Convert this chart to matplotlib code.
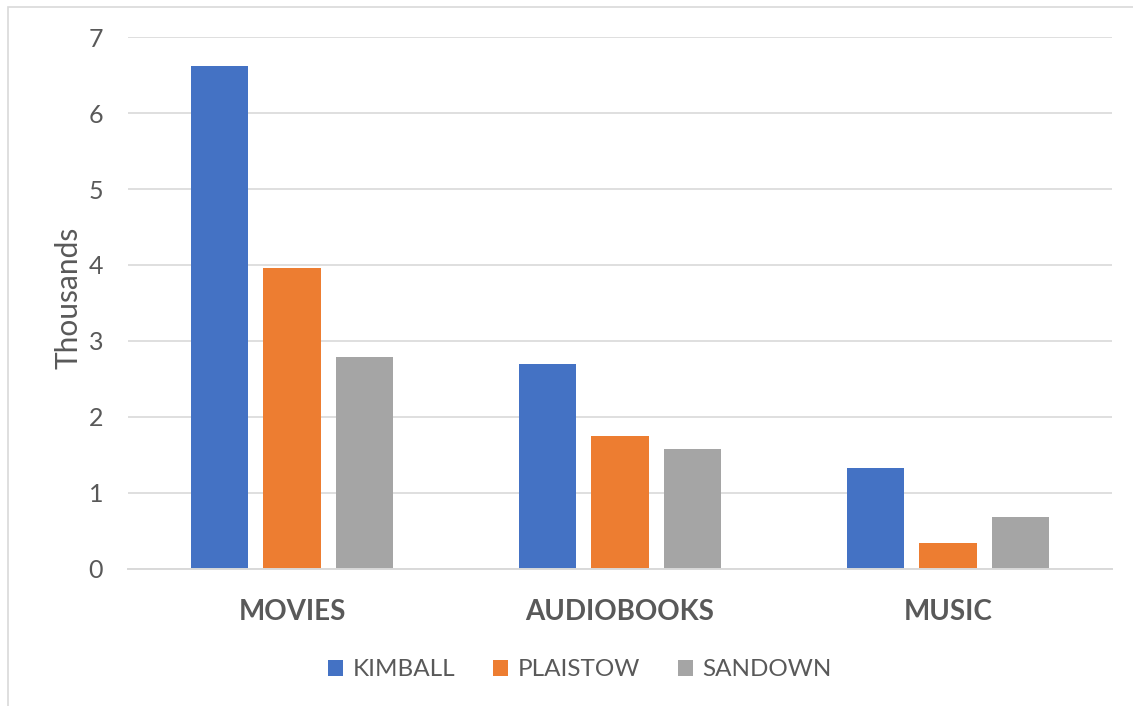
import matplotlib
matplotlib.use("Agg")
import matplotlib.pyplot as plt
from matplotlib.patches import Rectangle, Patch
import numpy as np

categories = ["MOVIES", "AUDIOBOOKS", "MUSIC"]
series_names = ["KIMBALL", "PLAISTOW", "SANDOWN"]
kimball = [6.62, 2.70, 1.32]
plaistow = [3.96, 1.75, 0.34]
sandown = [2.79, 1.57, 0.68]
yticks = [0, 1, 2, 3, 4, 5, 6, 7]

colors = ["#4472C4", "#ED7D31", "#A5A5A5"]
txt = "#595959"
grid = "#D9D9D9"

plt.rcParams['font.family'] = ['Lato', 'DejaVu Sans']

W, H = 1133, 706
fig = plt.figure(figsize=(W / 100, H / 100), dpi=100)
ax = fig.add_axes([128 / W, 1 - 568.5 / H, 984 / W, (568.5 - 37.3) / H])

x = np.arange(len(categories))
width = 0.175
step = 0.221
for i, (vals, name) in enumerate(zip([kimball, plaistow, sandown], series_names)):
    ax.bar(x + (i - 1) * step, vals, width, color=colors[i], label=name, zorder=3)

ax.set_xlim(-0.5, 2.5)
ax.set_ylim(0, 7)
ax.set_yticks(yticks)
ax.set_yticklabels([str(t) for t in yticks])
ax.set_xticks(x)
ax.set_xticklabels(categories, fontweight='bold')
ax.yaxis.grid(True, color=grid, linewidth=1.2, zorder=0)
for s in ["top", "right", "left"]:
    ax.spines[s].set_visible(False)
ax.spines["bottom"].set_color(grid)
ax.spines["bottom"].set_linewidth(1.4)
ax.spines["bottom"].set_zorder(4)
ax.tick_params(axis='y', length=0, pad=18, labelsize=18, labelcolor=txt)
ax.tick_params(axis='x', length=0, pad=22, labelsize=20, labelcolor=txt)

ax.set_ylabel("Thousands", fontsize=21.5, color=txt)
ax.yaxis.set_label_coords(-0.046, 0.51)

handles = [Patch(facecolor=c, edgecolor='none') for c in colors]
fig.legend(handles, series_names, loc='center', bbox_to_anchor=(580 / W, 1 - 670 / H),
           ncol=3, frameon=False, fontsize=17.5, labelcolor=txt,
           handlelength=0.62, handleheight=0.62, handletextpad=0.4, columnspacing=1.55)

fig.patches.append(Rectangle((8 / W, -0.5), 2, 1.5 - 7 / H, transform=fig.transFigure,
                             fill=False, edgecolor=grid, linewidth=1.2))

fig.savefig("out.png", dpi=100)
